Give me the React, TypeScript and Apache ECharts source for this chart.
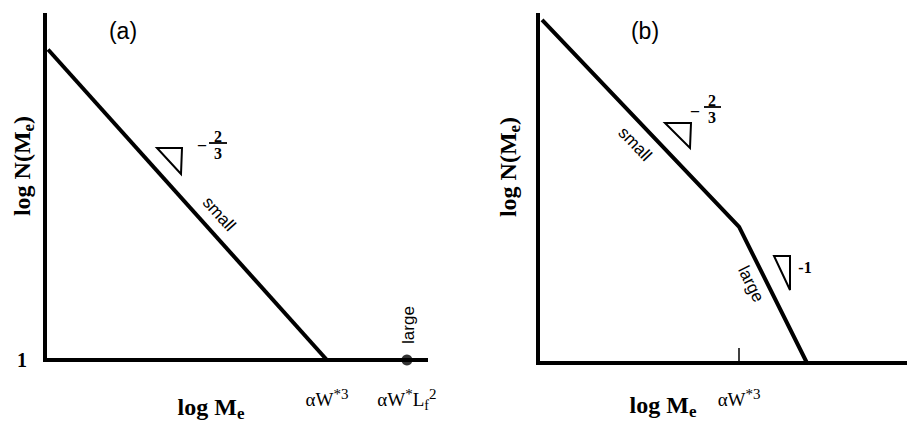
import React, { useEffect, useRef } from 'react';
import * as echarts from 'echarts';

// Panel (a): a single power law running down to the x axis (log units)
const smallA_x = [0.08, 7.4];
const smallA_y = [9.0, 0];
// isolated "large" point sitting on the axis
const largeA_x = [9.5];
const largeA_y = [0];

// Panel (b): broken power law, small regime then steeper large regime
const brokenB_x = [0.11, 5.45, 7.29];
const brokenB_y = [9.86, 3.91, 0];

// axis tick labels
const xTickValuesA = [smallA_x[1], largeA_x[0]];
const xTickLabelsA = ['{m|αW}{sup|*3}', '{m|αW}{sup|*}{m|L}{sub|f}{sup|2}'];
const xTickValuesB = [brokenB_x[1]];
const xTickLabelsB = ['{m|αW}{sup|*3}'];
const yTickValuesA = [0];
const yTickLabelsA = ['1'];

const SERIF = '"Liberation Serif", "Times New Roman", serif';
const SANS = '"Liberation Sans", Arial, sans-serif';

const tickRich = {
  m: { fontFamily: SERIF, fontSize: 19, lineHeight: 26, color: '#000' },
  sup: { fontFamily: SERIF, fontSize: 15, lineHeight: 19, verticalAlign: 'top', color: '#000' },
  sub: { fontFamily: SERIF, fontSize: 14, lineHeight: 16, verticalAlign: 'bottom', color: '#000' },
};

const titleRich = {
  t: { fontFamily: SERIF, fontWeight: 'bold', fontSize: 24, lineHeight: 30, color: '#000' },
  s: { fontFamily: SERIF, fontWeight: 'bold', fontSize: 17, lineHeight: 17, verticalAlign: 'bottom', color: '#000' },
};

const zip = (xs: number[], ys: number[]) => xs.map((x, i) => [x, ys[i]]);

const lookup = (values: number[], labels: string[]) => (v: number) => {
  const i = values.findIndex((u) => Math.abs(u - v) < 1e-9);
  return i >= 0 ? labels[i] : '';
};

const axisLine = { show: true, onZero: false, lineStyle: { color: '#000', width: 4, cap: 'square' } };

const text = (
  x: number,
  y: number,
  t: string,
  font: string,
  rotation = 0,
  rich?: any,
) => ({
  type: 'text',
  x,
  y,
  rotation,
  style: {
    text: t,
    font,
    fill: '#000',
    align: 'center',
    verticalAlign: 'middle',
    rich,
  },
});

const tri = (pts: number[][]) => ({
  type: 'polygon',
  shape: { points: pts },
  style: { fill: 'none', stroke: '#000', lineWidth: 2, lineJoin: 'miter' },
});

const bar = (x1: number, x2: number, y: number) => ({
  type: 'line',
  shape: { x1, y1: y, x2, y2: y },
  style: { stroke: '#000', lineWidth: 1.8 },
});

const FRAC = `bold 16px ${SERIF}`;

export default function App() {
  const ref = useRef<HTMLDivElement>(null);

  useEffect(() => {
    if (!ref.current) return;
    const chart = echarts.init(ref.current, undefined, { renderer: 'svg' });

    const option: any = {
      animation: false,
      backgroundColor: '#fff',
      grid: [
        { left: 45, top: 15, width: 381, height: 345 },
        { left: 538, top: 15, width: 369, height: 348 },
      ],
      xAxis: [
        {
          gridIndex: 0,
          type: 'value',
          min: 0,
          max: 10,
          axisLine,
          axisTick: { show: false },
          splitLine: { show: false },
          axisLabel: {
            show: true,
            customValues: xTickValuesA,
            formatter: lookup(xTickValuesA, xTickLabelsA),
            margin: 26,
            rich: tickRich,
          },
        },
        {
          gridIndex: 1,
          type: 'value',
          min: 0,
          max: 10,
          axisLine,
          axisTick: {
            show: true,
            customValues: xTickValuesB,
            inside: true,
            length: 15,
            lineStyle: { color: '#000', width: 1.5 },
          },
          splitLine: { show: false },
          axisLabel: {
            show: true,
            customValues: xTickValuesB,
            formatter: lookup(xTickValuesB, xTickLabelsB),
            margin: 23,
            rich: tickRich,
          },
        },
      ],
      yAxis: [
        {
          gridIndex: 0,
          type: 'value',
          min: 0,
          max: 10,
          axisLine,
          axisTick: { show: false },
          splitLine: { show: false },
          axisLabel: {
            show: true,
            customValues: yTickValuesA,
            formatter: lookup(yTickValuesA, yTickLabelsA),
            margin: 18,
            fontFamily: SERIF,
            fontWeight: 'bold',
            fontSize: 20,
            color: '#000',
          },
        },
        {
          gridIndex: 1,
          type: 'value',
          min: 0,
          max: 10,
          axisLine,
          axisTick: { show: false },
          splitLine: { show: false },
          axisLabel: { show: false },
        },
      ],
      series: [
        {
          type: 'line',
          xAxisIndex: 0,
          yAxisIndex: 0,
          data: zip(smallA_x, smallA_y),
          symbol: 'none',
          lineStyle: { color: '#000', width: 4, join: 'round' },
        },
        {
          type: 'scatter',
          xAxisIndex: 0,
          yAxisIndex: 0,
          data: zip(largeA_x, largeA_y),
          symbolSize: 11,
          itemStyle: { color: '#000' },
        },
        {
          type: 'line',
          xAxisIndex: 1,
          yAxisIndex: 1,
          data: zip(brokenB_x, brokenB_y),
          symbol: 'none',
          lineStyle: { color: '#000', width: 4, join: 'round' },
        },
      ],
      graphic: [
        // panel letters
        text(123, 31, '(a)', `23px ${SANS}`),
        text(645, 31, '(b)', `23px ${SANS}`),
        // axis titles
        text(211, 407, '{t|log M}{s|e}', '', 0, titleRich),
        text(663, 405, '{t|log M}{s|e}', '', 0, titleRich),
        text(22, 166, '{t|log N(M}{s|e}{t|)}', '', Math.PI / 2, titleRich),
        text(508, 167, '{t|log N(M}{s|e}{t|)}', '', Math.PI / 2, titleRich),
        // regime labels along the lines
        text(219, 214, 'small', `17px ${SANS}`, -0.838),
        text(408, 325, 'large', `17px ${SANS}`, Math.PI / 2),
        text(635, 144, 'small', `17px ${SANS}`, -0.81),
        text(751, 284, 'large', `17px ${SANS}`, -1.107),
        // slope triangles
        tri([[157, 148], [182, 148], [181, 174]]),
        tri([[665, 123], [691, 123], [690, 148]]),
        tri([[774, 256], [790, 256], [790, 290]]),
        // slope values
        text(202, 144, '–', FRAC),
        text(218, 136, '2', FRAC),
        bar(209, 227, 143),
        text(218, 153, '3', FRAC),
        text(695, 110, '–', FRAC),
        text(712, 100, '2', FRAC),
        bar(704, 721, 107),
        text(712, 117, '3', FRAC),
        text(805, 267, '-1', FRAC),
      ],
    };

    chart.setOption(option);
    return () => chart.dispose();
  }, []);

  return (
    <div
      ref={ref}
      style={{ position: 'absolute', left: 0, top: 0, width: 907, height: 423, background: '#fff' }}
    />
  );
}
